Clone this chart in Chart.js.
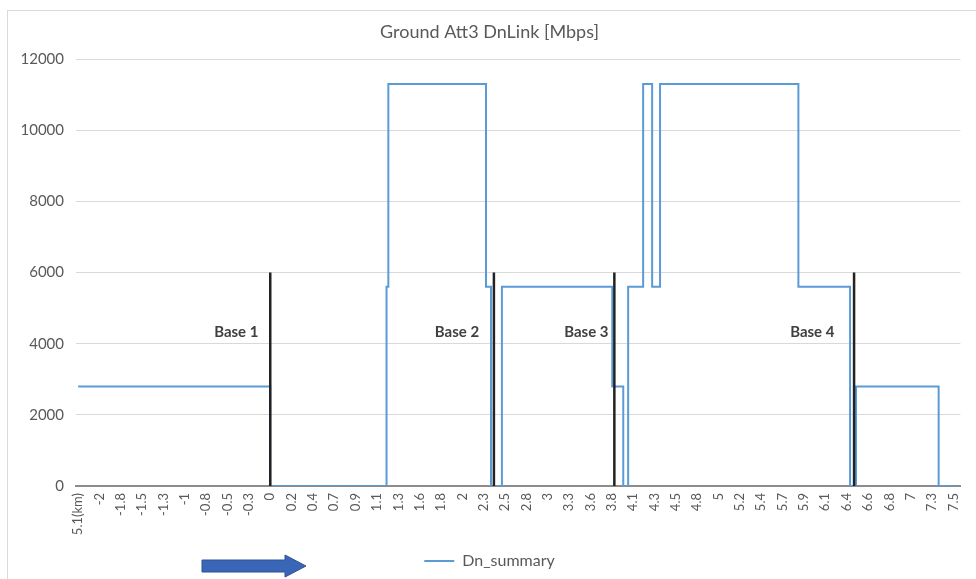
<!DOCTYPE html>
<html>
<head>
<meta charset="utf-8">
<script src="https://cdn.jsdelivr.net/npm/chart.js@4.4.1/dist/chart.umd.min.js"></script>
<style>
  html, body { margin: 0; padding: 0; background: #fff; }
  #wrap { position: relative; width: 976px; height: 579px; }
  #frame { position: absolute; left: 7px; top: 10px; right: 0; bottom: 0; border-left: 1px solid #d9d9d9; border-top: 1px solid #d9d9d9; }
  #chart { position: absolute; left: 0; top: 0; }
</style>
</head>
<body>
<div id="wrap">
  <div id="frame"></div>
  <canvas id="chart" width="976" height="579"></canvas>
</div>
<script>
// x axis tick labels (km), one every category step
const xTickLabels = ['5.1(km)', '-2', '-1.8', '-1.5', '-1.3', '-1', '-0.8', '-0.5', '-0.3', '0', '0.2', '0.4',
  '0.7', '0.9', '1.1', '1.3', '1.6', '1.8', '2', '2.3', '2.5', '2.8', '3', '3.3', '3.6', '3.8', '4.1',
  '4.3', '4.5', '4.8', '5', '5.2', '5.4', '5.7', '5.9', '6.1', '6.4', '6.6', '6.8', '7', '7.3', '7.5'];
const xTickStart = -2.115;
const xTickStep = 0.235;

// Dn_summary step points: distance (km) where a new level starts, and level (Mbps)
const dnX = [-2.115, 0.0, 1.28, 1.30, 2.375, 2.43, 2.55, 3.765, 3.886, 3.94, 4.105, 4.204, 4.291, 5.814, 6.383, 6.448, 7.358, 7.52];
const dnY = [2800, 0, 5600, 11300, 5600, 0, 5600, 2800, 0, 5600, 11300, 5600, 11300, 5600, 0, 2800, 0, 0];

// base station markers
const baseNames = ['Base 1', 'Base 2', 'Base 3', 'Base 4'];
const baseX = [0.0, 2.462, 3.788, 6.427];
const baseHeight = 6000;
const baseLabelX = [-0.374, 2.056, 3.48, 5.967];
const baseLabelY = 4320;

const yTicks = [0, 2000, 4000, 6000, 8000, 10000, 12000];

const fontFamily = 'Lato, "Open Sans", sans-serif';

const datasets = [{
  label: 'Dn_summary',
  data: dnX.map((x, i) => ({ x: x, y: dnY[i] })),
  borderColor: '#5b9bd5',
  backgroundColor: '#5b9bd5',
  borderWidth: 2,
  pointRadius: 0,
  stepped: 'before',
  order: 2
}];

baseX.forEach((x, i) => {
  datasets.push({
    label: baseNames[i],
    data: [{ x: x, y: 0 }, { x: x, y: baseHeight }],
    borderColor: '#222222',
    borderWidth: 2.5,
    pointRadius: 0,
    order: 1
  });
});

const extras = {
  id: 'extras',
  afterDatasetsDraw(chart) {
    const { ctx, scales } = chart;
    ctx.save();
    ctx.fillStyle = '#404040';
    ctx.font = 'bold 15px ' + fontFamily;
    ctx.textAlign = 'center';
    ctx.textBaseline = 'middle';
    baseNames.forEach((name, i) => {
      ctx.fillText(name, scales.x.getPixelForValue(baseLabelX[i]), scales.y.getPixelForValue(baseLabelY));
    });
    ctx.restore();
  },
  afterDraw(chart) {
    // direction arrow under the axis
    const ctx = chart.ctx;
    ctx.save();
    ctx.fillStyle = '#3a66b8';
    ctx.strokeStyle = '#2f528f';
    ctx.lineWidth = 1;
    ctx.beginPath();
    ctx.moveTo(202, 560);
    ctx.lineTo(285, 560);
    ctx.lineTo(285, 555);
    ctx.lineTo(306, 566);
    ctx.lineTo(285, 577);
    ctx.lineTo(285, 572);
    ctx.lineTo(202, 572);
    ctx.closePath();
    ctx.fill();
    ctx.stroke();
    ctx.restore();
  }
};

const ctx = document.getElementById('chart').getContext('2d');
new Chart(ctx, {
  type: 'line',
  data: { datasets: datasets },
  plugins: [extras],
  options: {
    responsive: false,
    animation: false,
    layout: { padding: { left: 8, right: 5, top: 0, bottom: 0 } },
    plugins: {
      title: {
        display: true,
        text: 'Ground Att3 DnLink [Mbps]',
        color: '#595959',
        font: { family: fontFamily, size: 18, weight: 'normal' },
        padding: { top: 21, bottom: 16.5 }
      },
      legend: {
        position: 'bottom',
        labels: {
          filter: (item) => item.text === 'Dn_summary',
          color: '#595959',
          font: { family: fontFamily, size: 16 },
          usePointStyle: true,
          pointStyle: 'line',
          pointStyleWidth: 30,
          boxWidth: 30,
          padding: 10
        }
      },
      tooltip: { enabled: false }
    },
    scales: {
      x: {
        type: 'linear',
        min: xTickStart - 0.1 * xTickStep,
        max: 7.52 + 0.33 * xTickStep,
        offset: false,
        grid: { display: false, drawTicks: false },
        border: { display: true, color: '#8c8c8c', width: 2 },
        afterBuildTicks: (scale) => {
          scale.ticks = xTickLabels.map((_, i) => ({ value: xTickStart + i * xTickStep }));
        },
        afterFit: (scale) => { scale.height = 57; },
        ticks: {
          autoSkip: false,
          minRotation: 90,
          maxRotation: 90,
          padding: 7,
          color: '#595959',
          font: { family: fontFamily, size: 13 },
          callback: (value, index) => xTickLabels[index]
        }
      },
      y: {
        min: 0,
        max: 12000,
        afterBuildTicks: (scale) => {
          scale.ticks = yTicks.map(v => ({ value: v }));
        },
        afterFit: (scale) => { scale.width = 68; },
        grid: {
          drawTicks: false,
          color: (c) => c.tick && c.tick.value === 0 ? '#8c8c8c' : '#d9d9d9',
          lineWidth: (c) => c.tick && c.tick.value === 0 ? 2 : 1
        },
        border: { display: false },
        ticks: {
          padding: 12,
          color: '#595959',
          font: { family: fontFamily, size: 15 },
          callback: (value) => String(value)
        }
      }
    }
  }
});
</script>
</body>
</html>
